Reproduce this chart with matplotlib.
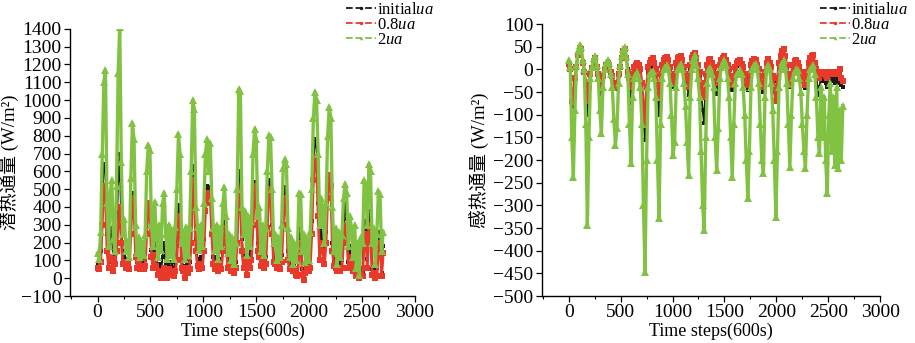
import numpy as np
import matplotlib
matplotlib.use("Agg")
import matplotlib.pyplot as plt
from matplotlib.lines import Line2D
from matplotlib.ticker import MultipleLocator

# ----------------------------------------------------------------------
# DATA (one sample every 15 time steps)
# ----------------------------------------------------------------------
STEP = 15

# latent heat flux (W/m2)
latent_initial = [
    80, 70, 150, 450, 640, 600, 250, 90, 250, 280, 70, 100, 250, 550, 700, 300,
    120, 150, 90, 110, 80, 350, 480, 450, 180, 90, 120, 80, 100, 80, 100, 330,
    400, 430, 160, 90, 200, 110, 50, 80, 40, 120, 200, 80, 30, 90, 40, 90,
    30, 90, 180, 410, 380, 100, 70, 20, 100, 60, 90, 300, 630, 600, 220, 110,
    80, 120, 100, 220, 450, 520, 480, 510, 300, 120, 80, 120, 60, 110, 80, 220,
    350, 250, 90, 120, 60, 100, 40, 90, 280, 600, 580, 220, 100, 160, 50, 130,
    90, 150, 380, 540, 520, 200, 180, 90, 140, 80, 120, 350, 550, 530, 300, 120,
    110, 70, 100, 70, 130, 380, 510, 480, 150, 70, 90, 50, 80, 40, 20, 220,
    280, 50, -10, 50, 80, 60, 100, 320, 650, 780, 740, 420, 160, 280, 220, 110,
    260, 520, 580, 560, 200, 90, 110, 50, 100, 60, 100, 280, 420, 330, 90, 180,
    130, 60, 110, 20, 70, 0, 60, 40, 300, 320, 110, 380, 330, 50, 80, 10,
    60, 230, 260, 30, 180,
]
latent_08 = [
    60, 50, 90, 300, 520, 480, 150, 60, 120, 110, 40, 80, 150, 300, 400, 200,
    80, 90, 60, 80, 50, 250, 450, 380, 120, 60, 80, 50, 70, 50, 70, 250,
    420, 380, 120, 60, 130, 70, 20, 40, 0, 20, 60, 40, 0, 50, 20, 40,
    10, 40, 100, 350, 300, 60, 40, 0, 60, 30, 50, 200, 550, 500, 150, 70,
    50, 80, 60, 150, 380, 480, 420, 460, 250, 80, 50, 80, 40, 70, 50, 150,
    280, 200, 60, 80, 40, 60, 30, 60, 200, 500, 480, 150, 60, 100, 20, 80,
    60, 100, 300, 520, 480, 150, 120, 70, 90, 60, 80, 280, 500, 480, 250, 90,
    80, 60, 70, 50, 90, 300, 450, 420, 100, 50, 60, 40, 50, 20, 10, 150,
    200, 20, -10, 30, 50, 40, 60, 250, 550, 680, 640, 350, 100, 200, 150, 80,
    200, 450, 580, 520, 150, 70, 60, 40, 50, 40, 60, 200, 300, 250, 60, 120,
    80, 40, 60, 10, 40, 0, 20, 10, 200, 250, 60, 300, 250, 20, 30, 0,
    10, 150, 200, 10, 140,
]
latent_2 = [
    140, 110, 260, 700, 1100, 1170, 420, 180, 480, 550, 220, 150, 520, 1150, 1410, 650,
    250, 330, 150, 210, 120, 560, 870, 780, 300, 140, 230, 120, 200, 130, 240, 600,
    750, 720, 300, 180, 430, 260, 120, 300, 160, 420, 480, 250, 110, 300, 130, 270,
    110, 290, 500, 810, 700, 200, 260, 110, 290, 130, 280, 600, 1000, 950, 400, 290,
    160, 300, 180, 420, 700, 780, 600, 760, 450, 280, 160, 300, 110, 280, 180, 420,
    510, 350, 140, 250, 100, 230, 80, 200, 500, 1060, 1050, 400, 250, 380, 130, 350,
    180, 320, 700, 840, 780, 350, 400, 150, 300, 130, 280, 600, 805, 790, 500, 200,
    250, 100, 230, 120, 300, 620, 670, 640, 280, 120, 230, 80, 200, 100, 180, 480,
    470, 150, 250, 90, 220, 100, 260, 500, 900, 1045, 1000, 700, 300, 450, 380, 200,
    420, 800, 960, 900, 400, 150, 280, 80, 260, 120, 240, 450, 530, 480, 180, 350,
    280, 120, 300, 60, 200, 20, 230, 200, 550, 520, 300, 640, 600, 200, 280, 80,
    250, 490, 470, 150, 260,
]

# sensible heat flux (W/m2)
sensible_initial = [
    15, 0, -82, -70, -30, 5, 35, 50, 45, 18, -2, -50, -100, -60, -15, 5,
    20, 25, 8, -15, -40, -55, -20, 0, 12, 18, 12, -8, -20, -35, -44, -35,
    -15, 5, 25, 40, 45, 28, 0, -40, -75, -20, 0, 5, 8, 0, -10, -60,
    -120, -156, -60, -5, 5, 10, 12, 5, -15, -60, -100, -20, 5, 12, 15, 18,
    10, -5, -30, -38, -20, 8, 15, 18, 20, 10, -5, -20, -35, -56, 0, 15,
    25, 33, 18, 0, -15, -50, -90, -119, -20, 5, 10, 12, 5, -5, -30, -54,
    -20, 5, 12, 18, 22, 12, 0, -10, -30, -45, -20, 0, 8, 10, 10, 5,
    -5, -20, -35, -45, -15, 5, 12, 15, 15, 5, -10, -25, -40, -50, -10, 10,
    15, 8, -5, -25, -50, -71, -25, 5, 20, 28, 32, 20, 0, -20, -38, -15,
    5, 10, 12, 8, 0, -10, -25, -35, -42, -10, 8, 15, 20, 22, 8, -10,
    -56, -40, -15, -25, -15, -30, -40, -15, -10, -25, -15, -30, -15, -30, -10, -35,
    -40,
]
sensible_08 = [
    12, 0, -70, -60, -20, 5, 32, 48, 44, 15, -5, -30, -70, -40, -10, 3,
    18, 24, 5, -10, -30, -40, -15, -2, 10, 15, 10, -5, -15, -30, -40, -30,
    -10, 5, 24, 40, 44, 25, -5, -20, -40, -10, 5, 10, 15, 10, 0, -30,
    -80, -120, -40, 5, 15, 20, 25, 15, 0, -30, -60, -10, 10, 20, 25, 28,
    20, 5, -20, -30, -10, 15, 25, 28, 30, 20, 5, -10, -20, -40, 10, 25,
    32, 35, 25, 10, -5, -30, -50, -60, -10, 10, 20, 22, 15, 5, -15, -30,
    -10, 10, 20, 25, 30, 20, 10, 0, -20, -35, -15, 5, 15, 18, 20, 12,
    5, -10, -25, -35, -10, 10, 18, 22, 20, 10, 0, -15, -30, -40, -5, 15,
    22, 15, 5, -15, -40, -70, -20, 15, 30, 40, 45, 30, 10, -15, -35, -10,
    10, 18, 20, 15, 5, -5, -15, -25, -35, -5, 15, 25, 30, 32, 15, 0,
    -5, -20, -5, -10, -5, -15, -20, -5, -5, -10, -5, -10, -5, -5, 0, -20,
    -25,
]
sensible_2 = [
    20, 5, -150, -237, -90, 10, 40, 54, 50, 20, 0, -120, -343, -150, -20, 5,
    25, 30, 10, -20, -90, -140, -40, 0, 15, 20, 15, -10, -40, -110, -167, -130,
    -30, 10, 30, 45, 49, 30, -10, -120, -207, -60, -20, -10, -6, -20, -40, -120,
    -300, -447, -200, -40, -10, -5, -4, -20, -60, -200, -328, -120, -20, 0, 5, 10,
    0, -30, -100, -189, -160, -40, 0, 5, 12, 0, -30, -80, -160, -233, -60, 0,
    20, 32, 10, -20, -60, -180, -300, -354, -150, -30, 0, 3, -10, -40, -150, -222,
    -130, -20, 5, 15, 20, 10, -20, -60, -150, -237, -120, -30, -10, -5, -1, -10,
    -40, -100, -200, -284, -180, -40, 0, 10, 12, 0, -30, -120, -200, -229, -60, 0,
    9, 0, -30, -90, -200, -325, -180, -40, 0, 15, 20, 5, -30, -120, -215, -100,
    -20, -5, 0, -1, -20, -50, -120, -180, -218, -100, -20, 0, 5, 9, -10, -60,
    -150, -185, -40, -150, -60, -200, -273, -100, -30, -180, -60, -210, -40, -218, -90, -200,
    -80,
]

LABELS = ["initial$\\mathit{ua}$", "0.8$\\mathit{ua}$", "2$\\mathit{ua}$"]
COLORS = ["#1a1a1a", "#e8392b", "#82c243"]
MARKERS = ["s", "s", "^"]
MSIZES = [3.2, 4.4, 5.4]
LWIDTHS = [1.4, 2.0, 2.4]

plt.rcParams["font.family"] = ["Liberation Serif", "Noto Sans CJK SC"]
plt.rcParams["mathtext.fontset"] = "custom"
plt.rcParams["mathtext.rm"] = "Liberation Serif"
plt.rcParams["mathtext.it"] = "Liberation Serif:italic"


def draw_panel(ax, series, ylabel, ylim, ystep):
    for vals, col, mk, ms, lw in zip(series, COLORS, MARKERS, MSIZES, LWIDTHS):
        x = np.arange(len(vals)) * STEP
        ax.plot(x, vals, linestyle="-", color=col, linewidth=lw,
                marker=mk, markersize=ms, markeredgewidth=0)

    ax.set_xlim(-260, 3000)
    ax.set_ylim(*ylim)
    ax.xaxis.set_major_locator(MultipleLocator(500))
    ax.xaxis.set_minor_locator(MultipleLocator(250))
    ax.yaxis.set_major_locator(MultipleLocator(ystep))
    ax.tick_params(axis="both", which="major", direction="out", length=4,
                   width=0.9, labelsize=14, pad=2)
    ax.tick_params(axis="x", which="minor", direction="out", length=2, width=0.8)
    for side in ("top", "right"):
        ax.spines[side].set_visible(False)
    for side in ("left", "bottom"):
        ax.spines[side].set_linewidth(1.0)
    ax.set_xlabel("Time steps(600s)", fontsize=13, labelpad=1)
    ax.set_ylabel(ylabel, fontsize=13.5, labelpad=2)


fig = plt.figure(figsize=(9.15, 3.43), dpi=100)
ax1 = fig.add_axes([0.0765, 0.137, 0.377, 0.779])
ax2 = fig.add_axes([0.592, 0.137, 0.370, 0.793])

draw_panel(ax1, [latent_initial, latent_08, latent_2], "潜热通量 (W/m²)",
           (-100, 1400), 100)
draw_panel(ax2, [sensible_initial, sensible_08, sensible_2], "感热通量 (W/m²)",
           (-500, 100), 50)

# legend keys drawn dashed with one marker, as in the original
handles = [Line2D([], [], color=c, linestyle="--", linewidth=1.3, marker="o",
                  markersize=2.5, markeredgewidth=0) for c in COLORS]
handles[2].set_marker("^")
for ax, xpos in ((ax1, 344 / 915), (ax2, 818 / 915)):
    ax.legend(handles, LABELS, loc="upper left", bbox_to_anchor=(xpos, 1.0),
              bbox_transform=fig.transFigure, frameon=False, fontsize=12,
              handlelength=1.8, handletextpad=0.1, labelspacing=-0.05,
              borderpad=0.1, borderaxespad=0.0, numpoints=1)

fig.savefig("out.png", dpi=100)
